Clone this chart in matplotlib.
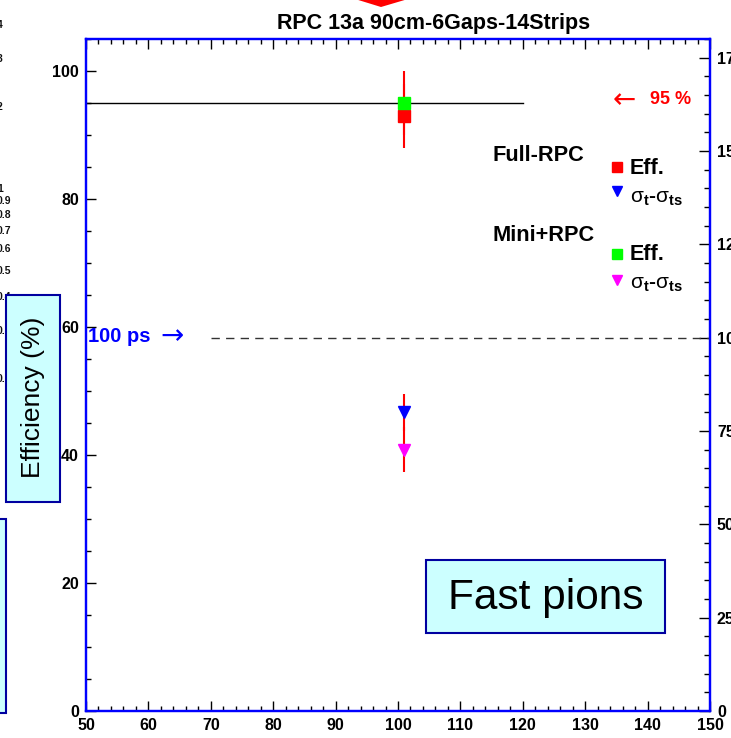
import matplotlib
matplotlib.use("Agg")
import matplotlib.pyplot as plt
from matplotlib.patches import Rectangle, Polygon
from matplotlib.ticker import MultipleLocator
import matplotlib.transforms as mtransforms

plt.rcParams['font.family'] = ['Liberation Sans', 'DejaVu Sans']
plt.rcParams['mathtext.fontset'] = 'custom'
plt.rcParams['mathtext.rm'] = 'Liberation Sans'
plt.rcParams['mathtext.bf'] = 'Liberation Sans:bold'
plt.rcParams['mathtext.it'] = 'Liberation Sans:italic'

# ---- data ----
beam_energy = [101.0]            # x position of the measurement
full_eff = [93.0]
full_eff_err = [5.0]
mini_eff = [95.0]
mini_eff_err = [5.0]
full_sigma = [80.0]              # sigma_t - sigma_ts (ps), right axis
full_sigma_err = [5.0]
mini_sigma = [70.0]
mini_sigma_err = [6.0]
eff_reference = 95.0             # 95 % line
eff_ref_xrange = [50, 120]
time_reference = 100.0           # 100 ps line
time_ref_xrange = [70, 150]

side_log_values = [4, 3, 2, 1, 0.9, 0.8, 0.7, 0.6, 0.5, 0.4, 0.3, 0.2]
side_log_labels = ["4", "3", "2", "1", "0.9", "0.8", "0.7", "0.6", "0.5", "0.4", "0.3", "0.2"]

W, H = 731, 738
fig = plt.figure(figsize=(W / 100, H / 100), dpi=100)


def fx(px):
    return px / W


def fy(py):
    return 1 - py / H


# ---- fragment of a neighbouring panel on the left ----
ax_frag = fig.add_axes([0, 0, 0.05, 1])
ax_frag.set_yscale('log')
ax_frag.set_ylim(10 ** ((189 - 738) / 272), 10 ** (189 / 272))
ax_frag.axis('off')
frag_tr = mtransforms.blended_transform_factory(fig.transFigure, ax_frag.transData)
for v, lab in zip(side_log_values, side_log_labels):
    ax_frag.text(fx(-3), v, lab, transform=frag_tr, ha='left', va='center',
                 fontsize=7.5, fontweight='bold', color='#111111')

# ---- main axes ----
blue = '#0000ff'
ax = fig.add_axes([fx(86), 1 - 711 / H, 624 / W, 672 / H])
ax.set_xlim(50, 150)
ax.set_ylim(0, 105)
ax2 = ax.twinx()
ax2.set_ylim(0, 180)

for a in (ax, ax2):
    for s in a.spines.values():
        s.set_color(blue)
        s.set_linewidth(1.6)

ax.xaxis.set_major_locator(MultipleLocator(10))
ax.xaxis.set_minor_locator(MultipleLocator(2))
ax.yaxis.set_major_locator(MultipleLocator(20))
ax.yaxis.set_minor_locator(MultipleLocator(5))
ax2.yaxis.set_major_locator(MultipleLocator(25))
ax2.yaxis.set_minor_locator(MultipleLocator(5))

ax.tick_params(axis='x', which='both', direction='in', top=True, bottom=True,
               color='black', width=1)
ax.tick_params(axis='x', which='major', length=7, pad=5)
ax.tick_params(axis='x', which='minor', length=3.5)
ax.tick_params(axis='y', which='both', direction='in', left=True, right=False,
               color='black', width=1)
ax.tick_params(axis='y', which='major', length=7, pad=5)
ax.tick_params(axis='y', which='minor', length=3.5)
ax2.tick_params(axis='y', which='both', direction='in', right=True, left=False,
                color='black', width=1)
ax2.tick_params(axis='y', which='major', length=8, pad=5)
ax2.tick_params(axis='y', which='minor', length=4)

for lab in ax.get_xticklabels() + ax.get_yticklabels() + ax2.get_yticklabels():
    lab.set_fontweight('bold')
    lab.set_fontsize(11.5)

# reference lines
ax.plot(eff_ref_xrange, [eff_reference] * 2, color='black', lw=1)
ax2.plot(time_ref_xrange, [time_reference] * 2, color='#333333', lw=1,
         dashes=(6, 4.5))

# efficiencies (left axis)
ax.errorbar(beam_energy, full_eff, yerr=full_eff_err, fmt='none', ecolor='red',
            elinewidth=1.5, capsize=0)
ax.errorbar(beam_energy, mini_eff, yerr=mini_eff_err, fmt='none', ecolor='red',
            elinewidth=1.5, capsize=0)
ax.plot(beam_energy, full_eff, 's', color='#ff0000', ms=9, mec='#ff0000')
ax.plot(beam_energy, mini_eff, 's', color='#00ff00', ms=9, mec='#00ff00')

# time resolutions (right axis)
ax2.errorbar(beam_energy, full_sigma, yerr=full_sigma_err, fmt='none', ecolor='red',
             elinewidth=1.5, capsize=0)
ax2.errorbar(beam_energy, mini_sigma, yerr=mini_sigma_err, fmt='none', ecolor='red',
             elinewidth=1.5, capsize=0)
ax2.plot(beam_energy, full_sigma, 'v', color='#0000ff', ms=8, mec='#0000ff')
ax2.plot(beam_energy, mini_sigma, 'v', color='#ff00ff', ms=8, mec='#ff00ff')

# annotations
arrow_font = ['DejaVu Sans']
fig.text(fx(613), fy(100), "\u2190", color='red', fontsize=20,
         family=arrow_font, ha='left', va='center')
fig.text(fx(650), fy(100), "95 %", color='red', fontsize=13,
         fontweight='bold', ha='left', va='center')
fig.text(fx(88), fy(337), "100 ps", color='blue', fontsize=14.5,
         fontweight='bold', ha='left', va='center')
fig.text(fx(160), fy(336), "\u2192", color='blue', fontsize=20,
         family=arrow_font, ha='left', va='center')

# legend block
fig.text(fx(492), fy(161), "Full-RPC", fontsize=15.7, fontweight='bold',
         ha='left', va='baseline')
fig.text(fx(492), fy(241), "Mini+RPC", fontsize=15.7, fontweight='bold',
         ha='left', va='baseline')
fig.text(fx(630), fy(174), "Eff.", fontsize=15.5, fontweight='bold',
         ha='left', va='baseline')
fig.text(fx(630), fy(260), "Eff.", fontsize=15.5, fontweight='bold',
         ha='left', va='baseline')
sig = r"$\mathrm{\sigma}_{\mathbf{t}}$-$\mathrm{\sigma}_{\mathbf{ts}}$"
fig.text(fx(630), fy(203), sig, fontsize=15, fontweight='bold',
         ha='left', va='baseline')
fig.text(fx(630), fy(289), sig, fontsize=15, fontweight='bold',
         ha='left', va='baseline')
for (px, py, mk, col, ms) in [(617, 167, 's', '#ff0000', 7),
                              (617, 191, 'v', '#0000ff', 7),
                              (617, 254, 's', '#00ff00', 7),
                              (617, 280, 'v', '#ff00ff', 7)]:
    fig.lines.append(plt.Line2D([fx(px)], [fy(py)], marker=mk, color=col,
                                ms=ms, ls='none', transform=fig.transFigure))

# title and arrow tip above it
fig.text(fx(434), fy(24), "RPC 13a 90cm-6Gaps-14Strips", fontsize=15.5,
         fontweight='bold', ha='center', va='center')
fig.patches.append(Polygon([[fx(355), fy(-1)], [fx(408), fy(-1)], [fx(381), fy(7)]],
                           closed=True, facecolor='#ff0000', edgecolor='none',
                           transform=fig.transFigure))

# labelled boxes
box_fc = '#ccffff'
box_ec = '#0000a0'
fig.patches.append(Rectangle((fx(426), fy(633)), (665 - 426) / W, (633 - 560) / H,
                             facecolor=box_fc, edgecolor=box_ec, lw=1.5,
                             transform=fig.transFigure, zorder=5))
fig.text(fx(545.5), fy(598), "Fast pions", fontsize=30.5, ha='center', va='center',
         zorder=6)

fig.patches.append(Rectangle((fx(6), fy(502)), (60 - 6) / W, (502 - 295) / H,
                             facecolor=box_fc, edgecolor=box_ec, lw=1.5,
                             transform=fig.transFigure, zorder=5))
fig.text(fx(33), fy(397), "Efficiency (%)", fontsize=19, rotation=90,
         ha='center', va='center', zorder=6)
fig.patches.append(Rectangle((fx(-20), fy(713)), 26 / W, (713 - 519) / H,
                             facecolor=box_fc, edgecolor=box_ec, lw=1.5,
                             transform=fig.transFigure, zorder=5))

fig.savefig("out.png", dpi=100)
